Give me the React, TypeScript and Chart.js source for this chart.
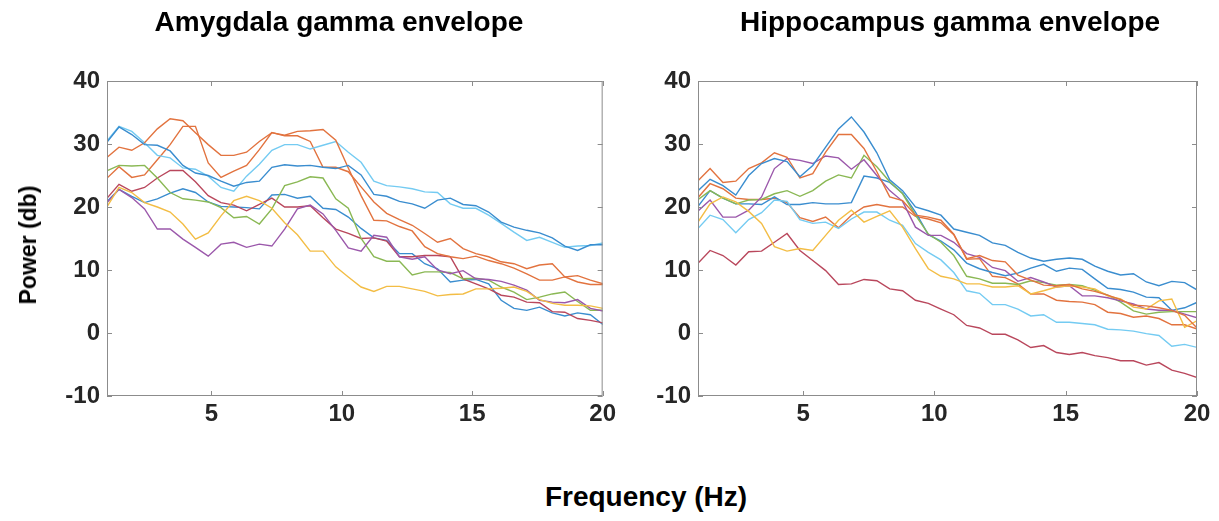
import React, { useEffect, useRef } from 'react';
import { Chart, registerables } from 'chart.js';

Chart.register(...registerables);

// Frequency axis (Hz) of every spectrum
const freqs = [0.98, 1.46, 1.95, 2.44, 2.93, 3.42, 3.91, 4.39, 4.88, 5.37, 5.86, 6.35, 6.84, 7.32, 7.81, 8.30, 8.79, 9.28, 9.77, 10.25, 10.74, 11.23, 11.72, 12.21, 12.70, 13.18, 13.67, 14.16, 14.65, 15.14, 15.63, 16.11, 16.60, 17.09, 17.58, 18.07, 18.55, 19.04, 19.53, 20.02];

const xTicks = [5, 10, 15, 20];
const yTicks = [-10, 0, 10, 20, 30, 40];

// Amygdala gamma envelope (dB)
const amyBlueA = [30.2, 32.7, 31.5, 29.9, 29.8, 28.9, 26.6, 25.4, 25.0, 24.1, 23.3, 23.9, 24.1, 26.3, 26.7, 26.5, 26.6, 26.3, 26.1, 26.6, 25.1, 22.0, 21.7, 20.9, 20.5, 19.8, 21.1, 21.4, 20.4, 20.2, 19.2, 17.6, 16.8, 16.3, 15.9, 15.1, 13.8, 13.1, 14.0, 14.0];
const amyOrangeA = [27.8, 29.5, 29.0, 30.2, 32.4, 34.0, 33.7, 31.8, 29.9, 28.2, 28.2, 28.7, 30.4, 31.8, 31.4, 32.0, 32.1, 32.3, 30.6, 26.2, 21.8, 17.9, 17.8, 16.9, 16.2, 13.7, 12.6, 12.1, 11.8, 12.2, 11.5, 11.0, 10.3, 9.4, 8.4, 8.4, 8.9, 9.1, 8.4, 7.8];
const amyYellow = [19.9, 23.1, 22.3, 20.7, 20.0, 19.2, 17.3, 14.9, 15.9, 18.6, 21.0, 21.7, 21.0, 19.8, 17.5, 15.6, 13.0, 13.0, 10.5, 8.9, 7.3, 6.6, 7.4, 7.4, 7.0, 6.6, 5.9, 6.1, 6.2, 7.0, 7.0, 7.1, 7.3, 6.6, 5.3, 4.7, 4.4, 4.4, 4.3, 3.9];
const amyPurple = [20.6, 22.8, 21.5, 19.7, 16.5, 16.5, 14.9, 13.6, 12.2, 14.1, 14.4, 13.6, 14.1, 13.8, 16.5, 19.7, 20.3, 18.9, 16.3, 13.5, 13.0, 15.5, 15.2, 12.1, 11.7, 12.1, 10.0, 9.4, 9.9, 8.6, 8.5, 8.2, 7.6, 6.8, 5.2, 4.9, 4.8, 5.3, 3.9, 3.5];
const amyGreen = [25.7, 26.6, 26.5, 26.6, 24.6, 22.3, 21.3, 21.1, 20.8, 19.9, 18.3, 18.5, 17.3, 19.7, 23.4, 24.0, 24.8, 24.6, 21.3, 19.8, 15.0, 12.1, 11.4, 11.4, 9.2, 9.7, 9.7, 9.6, 8.6, 8.7, 8.4, 7.3, 6.5, 5.3, 5.7, 6.2, 6.5, 5.0, 3.6, 3.6];
const amyLightBlue = [30.4, 32.8, 32.0, 30.2, 28.2, 27.8, 26.2, 26.0, 24.9, 23.1, 22.5, 24.9, 26.8, 29.0, 29.9, 29.9, 29.2, 29.8, 30.4, 28.7, 27.1, 24.1, 23.4, 23.2, 22.9, 22.4, 22.3, 20.5, 19.8, 19.8, 18.7, 17.4, 16.0, 14.7, 15.2, 14.4, 13.6, 13.8, 13.9, 14.3];
const amyDarkRed = [21.3, 23.6, 22.5, 23.1, 24.6, 25.8, 25.8, 24.0, 21.8, 20.7, 20.3, 19.4, 20.4, 21.4, 20.0, 20.0, 20.2, 18.3, 16.5, 15.8, 15.0, 15.1, 14.6, 12.1, 12.1, 12.3, 12.3, 12.1, 8.6, 7.8, 7.0, 6.0, 5.7, 4.9, 4.8, 3.4, 3.3, 2.3, 2.0, 1.6];
const amyBlueB = [20.8, 22.8, 21.7, 20.7, 21.3, 22.2, 22.9, 22.3, 20.8, 20.1, 20.0, 19.9, 19.7, 21.9, 22.0, 21.4, 21.7, 19.8, 19.6, 18.4, 16.6, 15.1, 14.7, 12.6, 12.6, 11.0, 10.2, 8.1, 8.4, 8.5, 7.8, 5.2, 3.9, 3.6, 4.1, 3.2, 2.7, 3.2, 2.9, 1.3];
const amyOrangeB = [24.5, 26.4, 24.7, 25.1, 27.5, 29.9, 32.8, 32.8, 27.0, 24.7, 25.7, 26.6, 29.1, 31.8, 31.3, 31.3, 30.4, 26.3, 26.3, 25.6, 23.2, 20.8, 19.0, 18.0, 17.1, 15.8, 14.4, 15.0, 13.4, 12.6, 12.1, 11.3, 11.0, 10.2, 10.8, 11.0, 8.9, 8.1, 7.7, 7.7];

// Hippocampus gamma envelope (dB)
const hipBlueA = [22.5, 24.4, 23.4, 21.9, 25.0, 26.9, 27.7, 27.2, 24.8, 26.6, 29.5, 32.4, 34.3, 31.9, 28.6, 24.3, 22.6, 20.0, 19.4, 18.7, 16.5, 16.0, 15.5, 14.3, 13.9, 12.8, 11.9, 11.4, 11.7, 11.9, 11.7, 10.6, 9.8, 9.2, 9.4, 8.1, 7.5, 8.2, 8.0, 6.8];
const hipOrangeA = [24.1, 26.1, 23.9, 24.1, 26.1, 27.0, 28.6, 27.9, 24.6, 25.3, 28.7, 31.5, 31.5, 29.3, 25.6, 21.6, 21.0, 18.7, 18.4, 17.9, 15.7, 11.8, 12.3, 11.5, 11.3, 9.2, 8.4, 7.6, 7.5, 7.7, 7.0, 6.6, 6.0, 5.3, 4.4, 4.3, 4.0, 3.6, 2.8, 0.7];
const hipYellow = [17.5, 20.5, 21.6, 20.8, 19.3, 17.4, 13.7, 13.0, 13.4, 13.1, 15.5, 17.9, 19.5, 17.6, 18.5, 19.4, 16.8, 13.4, 10.2, 9.0, 8.6, 7.8, 7.8, 7.3, 7.3, 7.5, 6.2, 6.7, 7.3, 7.5, 7.3, 7.0, 5.9, 5.4, 4.1, 3.8, 5.1, 5.4, 0.9, 2.0];
const hipPurple = [19.3, 21.1, 18.4, 18.4, 19.5, 21.6, 26.1, 27.7, 27.4, 26.9, 28.1, 27.8, 26.0, 27.5, 25.0, 22.6, 20.9, 16.8, 15.5, 15.5, 14.4, 12.6, 12.0, 10.4, 9.9, 8.2, 8.8, 8.1, 7.3, 7.5, 5.9, 5.9, 5.6, 5.1, 4.6, 3.8, 3.6, 3.6, 3.0, 2.4];
const hipGreen = [21.1, 22.6, 21.4, 20.5, 21.1, 21.2, 22.1, 22.6, 21.7, 22.6, 24.1, 25.1, 24.6, 28.2, 26.4, 24.0, 22.1, 18.7, 15.7, 14.4, 12.3, 9.0, 8.6, 7.9, 7.9, 7.7, 8.3, 8.0, 7.6, 7.7, 7.5, 6.8, 6.0, 4.9, 3.5, 3.0, 3.3, 3.4, 3.4, 3.4];
const hipLightBlue = [16.5, 18.7, 18.0, 15.9, 18.0, 19.1, 21.1, 20.9, 18.0, 17.4, 17.6, 16.6, 18.1, 19.2, 19.2, 17.9, 17.1, 14.2, 12.8, 11.6, 9.6, 6.7, 6.3, 4.5, 4.5, 3.8, 2.7, 2.9, 1.7, 1.7, 1.5, 1.3, 0.6, 0.5, 0.3, -0.1, -0.4, -2.1, -1.8, -2.3];
const hipDarkRed = [11.0, 13.1, 12.3, 10.8, 12.9, 13.0, 14.4, 15.8, 13.1, 11.5, 9.9, 7.7, 7.8, 8.5, 8.3, 7.0, 6.7, 5.2, 4.7, 3.8, 2.9, 1.2, 0.8, -0.2, -0.2, -1.1, -2.3, -2.0, -3.1, -3.4, -3.1, -3.6, -3.9, -4.4, -4.4, -5.1, -4.7, -5.9, -6.4, -7.1];
const hipBlueB = [20.0, 22.6, 21.4, 20.5, 20.5, 20.4, 21.6, 20.4, 20.4, 20.7, 20.5, 20.5, 20.7, 24.9, 24.6, 23.9, 22.2, 19.2, 15.6, 14.6, 13.2, 11.1, 10.2, 9.6, 9.1, 9.5, 10.3, 10.9, 9.8, 10.3, 10.1, 8.6, 7.1, 6.9, 6.5, 5.7, 5.6, 3.6, 4.0, 4.9];
const hipOrangeB = [21.4, 23.7, 22.9, 21.4, 21.2, 21.2, 21.4, 20.7, 18.3, 17.7, 18.4, 16.7, 18.7, 20.0, 20.4, 20.0, 20.0, 18.5, 18.1, 17.5, 15.6, 11.7, 11.8, 9.0, 8.8, 7.8, 6.2, 6.2, 5.2, 5.0, 4.9, 4.5, 3.3, 3.1, 2.5, 2.7, 2.3, 1.3, 1.3, 0.6];

// MATLAB-like colour order (blue, orange, yellow, purple, green, light blue, dark red, blue, orange)
const lineColors = ['#3a8dcf', '#e2733f', '#f3bd45', '#9b58ab', '#8ab854', '#74cbf2', '#b9475c', '#3a8dcf', '#e2733f'];

const amySeries = [amyBlueA, amyOrangeA, amyYellow, amyPurple, amyGreen, amyLightBlue, amyDarkRed, amyBlueB, amyOrangeB];
const hipSeries = [hipBlueA, hipOrangeA, hipYellow, hipPurple, hipGreen, hipLightBlue, hipDarkRed, hipBlueB, hipOrangeB];

const FONT = "'Liberation Sans', Arial, Helvetica, sans-serif";
const AXIS_COLOR = '#8c8c8c';
const TICK_TEXT = '#262626';
const CANVAS_H = 450;

const boxPlugin = {
  id: 'matlabBox',
  afterDatasetsDraw(chart: any) {
    const { ctx, chartArea: a, scales } = chart;
    ctx.save();
    ctx.strokeStyle = AXIS_COLOR;
    ctx.lineWidth = 1;
    ctx.strokeRect(a.left + 0.5, a.top + 0.5, a.right - a.left - 1, a.bottom - a.top - 1);
    const L = 5;
    ctx.beginPath();
    scales.x.ticks.forEach((t: any) => {
      const px = Math.round(scales.x.getPixelForValue(t.value)) + 0.5;
      ctx.moveTo(px, a.bottom);
      ctx.lineTo(px, a.bottom - L);
      ctx.moveTo(px, a.top);
      ctx.lineTo(px, a.top + L);
    });
    scales.y.ticks.forEach((t: any) => {
      const py = Math.round(scales.y.getPixelForValue(t.value)) + 0.5;
      ctx.moveTo(a.left, py);
      ctx.lineTo(a.left + L, py);
      ctx.moveTo(a.right, py);
      ctx.lineTo(a.right - L, py);
    });
    ctx.stroke();
    ctx.restore();
  },
};

function makeConfig(series: number[][], yWidth: number, padRight: number): any {
  return {
    type: 'line',
    data: {
      datasets: series.map((vals, i) => ({
        data: vals.map((v, j) => ({ x: freqs[j], y: v })),
        borderColor: lineColors[i],
        backgroundColor: lineColors[i],
        borderWidth: 1.4,
        pointRadius: 0,
        fill: false,
        tension: 0,
      })),
    },
    options: {
      responsive: false,
      maintainAspectRatio: false,
      animation: false,
      devicePixelRatio: 1,
      events: [],
      layout: { padding: { top: 81, right: padRight, left: 0, bottom: 0 } },
      plugins: { legend: { display: false }, tooltip: { enabled: false }, title: { display: false } },
      scales: {
        x: {
          type: 'linear',
          min: 1,
          max: 20,
          grid: { display: false, drawTicks: false },
          border: { display: false },
          afterBuildTicks: (scale: any) => {
            scale.ticks = xTicks.map((v) => ({ value: v }));
          },
          afterFit: (scale: any) => {
            scale.height = CANVAS_H - 396;
          },
          ticks: {
            color: TICK_TEXT,
            padding: 4,
            maxRotation: 0,
            font: { family: FONT, size: 24, weight: 'bold' },
            callback: (v: any) => String(v),
          },
        },
        y: {
          type: 'linear',
          min: -10,
          max: 40,
          grid: { display: false, drawTicks: false },
          border: { display: false },
          afterBuildTicks: (scale: any) => {
            scale.ticks = yTicks.map((v) => ({ value: v }));
          },
          afterFit: (scale: any) => {
            scale.width = yWidth;
          },
          ticks: {
            color: TICK_TEXT,
            padding: 7,
            font: { family: FONT, size: 24, weight: 'bold' },
            callback: (v: any) => String(v),
          },
        },
      },
    },
    plugins: [boxPlugin],
  };
}

function Panel(props: { series: number[][]; left: number; width: number; yWidth: number; padRight: number }) {
  const ref = useRef<HTMLCanvasElement>(null);
  useEffect(() => {
    const chart = new Chart(ref.current as HTMLCanvasElement, makeConfig(props.series, props.yWidth, props.padRight));
    return () => chart.destroy();
  }, []);
  return (
    <canvas
      ref={ref}
      width={props.width}
      height={CANVAS_H}
      style={{ position: 'absolute', left: props.left, top: 0, width: props.width, height: CANVAS_H }}
    />
  );
}

const textBase: React.CSSProperties = {
  position: 'absolute',
  fontFamily: FONT,
  fontWeight: 'bold',
  color: '#000',
  whiteSpace: 'nowrap',
};

export default function App() {
  return (
    <div style={{ position: 'absolute', left: 0, top: 0, width: 1219, height: 521, background: '#fff', overflow: 'hidden' }}>
      <Panel series={amySeries} left={0} width={620} yWidth={107} padRight={14} />
      <Panel series={hipSeries} left={640} width={579} yWidth={58} padRight={22} />
      <div style={{ ...textBase, left: 339, top: 6, fontSize: 28, lineHeight: '32px', transform: 'translateX(-50%)' }}>
        Amygdala gamma envelope
      </div>
      <div style={{ ...textBase, left: 950, top: 6, fontSize: 28, lineHeight: '32px', transform: 'translateX(-50%)' }}>
        Hippocampus gamma envelope
      </div>
      <div
        style={{
          ...textBase,
          left: 28,
          top: 245,
          fontSize: 23,
          lineHeight: '26px',
          transform: 'translate(-50%, -50%) rotate(-90deg)',
        }}
      >
        Power (db)
      </div>
      <div style={{ ...textBase, left: 646, top: 481, fontSize: 28, lineHeight: '32px', transform: 'translateX(-50%)' }}>
        Frequency (Hz)
      </div>
    </div>
  );
}
